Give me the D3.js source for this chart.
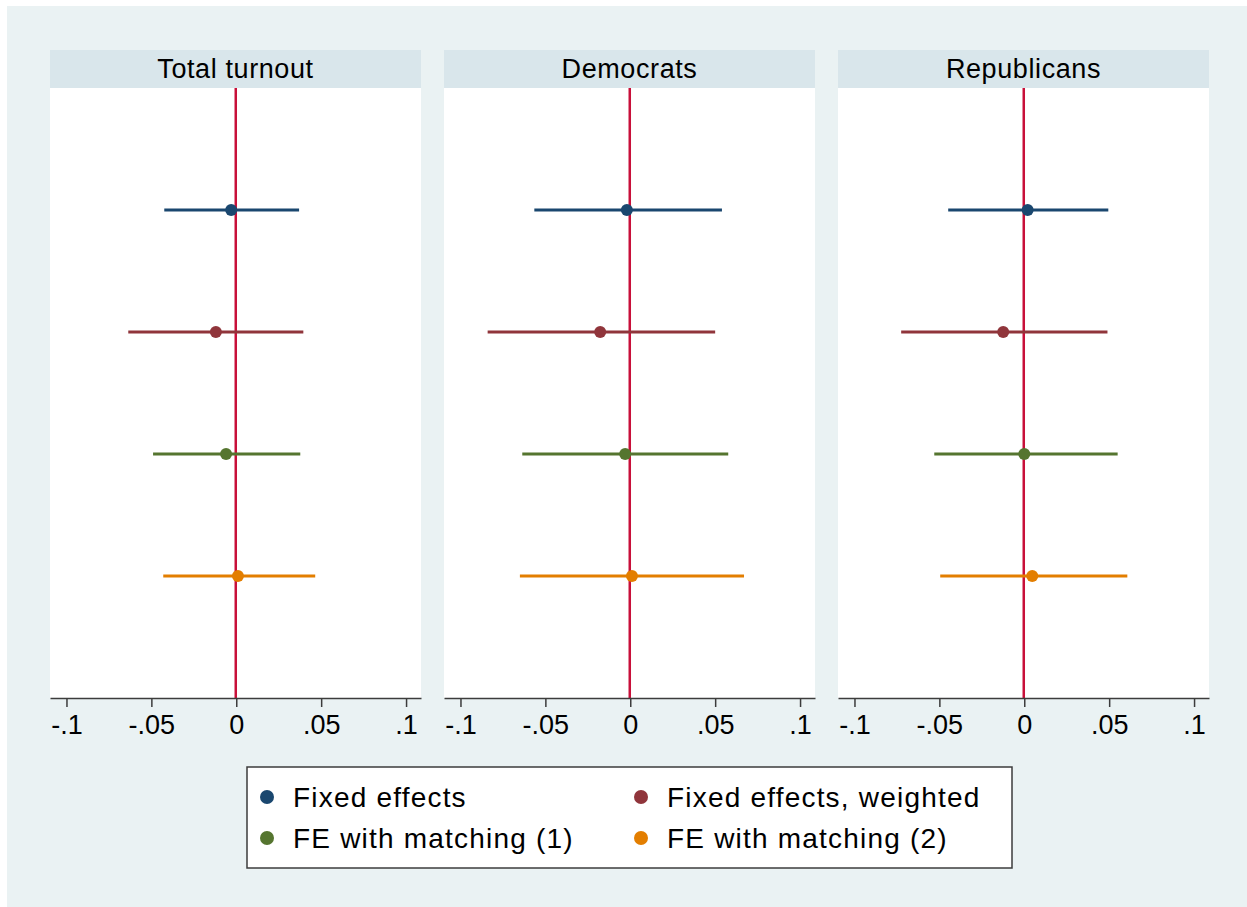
<!DOCTYPE html>
<html>
<head>
<script src="https://d3js.org/d3.v7.min.js"></script>
<style>
  body { margin: 0; background: #fff; }
  text { font-family: "Liberation Sans", Arial, sans-serif; }
</style>
</head>
<body>
<svg width="1247" height="907"></svg>
<script>
var panels = ["Total turnout", "Democrats", "Republicans"];
var series = ["Fixed effects", "Fixed effects, weighted", "FE with matching (1)", "FE with matching (2)"];
var colors = ["#1a476f", "#90353b", "#55752f", "#e37e00"];
var tickValues = [-0.1, -0.05, 0, 0.05, 0.1];
var tickLabels = ["-.1", "-.05", "0", ".05", ".1"];

// point estimates, one array per panel, in series order
var estTotal = [-0.003, -0.012, -0.006, 0.001];
var estDem = [-0.002, -0.0177, -0.003, 0.001];
var estRep = [0.002, -0.0124, 0.0, 0.0047];
// confidence interval bounds
var loTotal = [-0.0424, -0.0636, -0.049, -0.043];
var hiTotal = [0.037, 0.0395, 0.0377, 0.0465];
var loDem = [-0.0565, -0.084, -0.0636, -0.065];
var hiDem = [0.054, 0.050, 0.0577, 0.067];
var loRep = [-0.0448, -0.0725, -0.053, -0.0495];
var hiRep = [0.0495, 0.049, 0.055, 0.0607];

var est = [estTotal, estDem, estRep];
var lo = [loTotal, loDem, loRep];
var hi = [hiTotal, hiDem, hiRep];

var svg = d3.select("svg");

// outer background
svg.append("rect")
  .attr("x", 7).attr("y", 6)
  .attr("width", 1240).attr("height", 901)
  .attr("fill", "#eaf2f3");

var panelX = [50, 444, 838];
var panelW = 371;
var stripTop = 50, plotTop = 88, plotBottom = 698;

var y = d3.scaleLinear().domain([0, 5]).range([plotTop, plotBottom]);

panels.forEach(function(name, p) {
  var x0 = panelX[p];
  var x = d3.scaleLinear().domain([-0.1097, 0.1088]).range([x0, x0 + panelW]);
  var g = svg.append("g");

  g.append("rect")
    .attr("x", x0).attr("y", stripTop)
    .attr("width", panelW).attr("height", plotTop - stripTop)
    .attr("fill", "#d9e6eb");
  g.append("text")
    .attr("x", x0 + panelW / 2).attr("y", 78)
    .attr("text-anchor", "middle")
    .attr("font-size", 27)
    .attr("letter-spacing", 0.6)
    .attr("fill", "#000")
    .text(name);

  g.append("rect")
    .attr("x", x0).attr("y", plotTop)
    .attr("width", panelW).attr("height", plotBottom - plotTop)
    .attr("fill", "#fff");

  // zero reference line
  g.append("line")
    .attr("x1", x(0) - 0.5).attr("x2", x(0) - 0.5)
    .attr("y1", plotTop).attr("y2", plotBottom)
    .attr("stroke", "#c8103a").attr("stroke-width", 2.5);

  var rows = series.map(function(s, i) {
    return { i: i, est: est[p][i], lo: lo[p][i], hi: hi[p][i] };
  });

  g.selectAll("line.ci").data(rows).enter().append("line")
    .attr("class", "ci")
    .attr("x1", function(d) { return x(d.lo); })
    .attr("x2", function(d) { return x(d.hi); })
    .attr("y1", function(d) { return y(d.i + 1); })
    .attr("y2", function(d) { return y(d.i + 1); })
    .attr("stroke", function(d) { return colors[d.i]; })
    .attr("stroke-width", 3);

  g.selectAll("circle").data(rows).enter().append("circle")
    .attr("cx", function(d) { return x(d.est); })
    .attr("cy", function(d) { return y(d.i + 1); })
    .attr("r", 6)
    .attr("fill", function(d) { return colors[d.i]; });

  var axis = d3.axisBottom(x)
    .tickValues(tickValues)
    .tickSize(9)
    .tickSizeOuter(0)
    .tickPadding(8)
    .tickFormat(function(d, i) { return tickLabels[i]; });

  var ax = g.append("g")
    .attr("transform", "translate(0," + plotBottom + ")")
    .call(axis);
  ax.select(".domain").attr("stroke", "#3c3c3c").attr("stroke-width", 1.5);
  ax.selectAll(".tick line").attr("stroke", "#3c3c3c").attr("stroke-width", 1.5);
  ax.selectAll(".tick text")
    .attr("font-size", 27)
    .attr("fill", "#000")
    .attr("font-family", "Liberation Sans, Arial, sans-serif");
});

// legend
var leg = svg.append("g");
leg.append("rect")
  .attr("x", 247).attr("y", 767)
  .attr("width", 765).attr("height", 101)
  .attr("fill", "#fff")
  .attr("stroke", "#3c3c3c").attr("stroke-width", 1.5);

var legX = [267, 641];
var legY = [797, 838];
series.forEach(function(s, i) {
  var cx = legX[i % 2], cy = legY[Math.floor(i / 2)];
  leg.append("circle")
    .attr("cx", cx).attr("cy", cy).attr("r", 7)
    .attr("fill", colors[i]);
  leg.append("text")
    .attr("x", cx + 26).attr("y", cy + 10)
    .attr("font-size", 28)
    .attr("letter-spacing", 1.2)
    .attr("fill", "#000")
    .text(s);
});
</script>
</body>
</html>
